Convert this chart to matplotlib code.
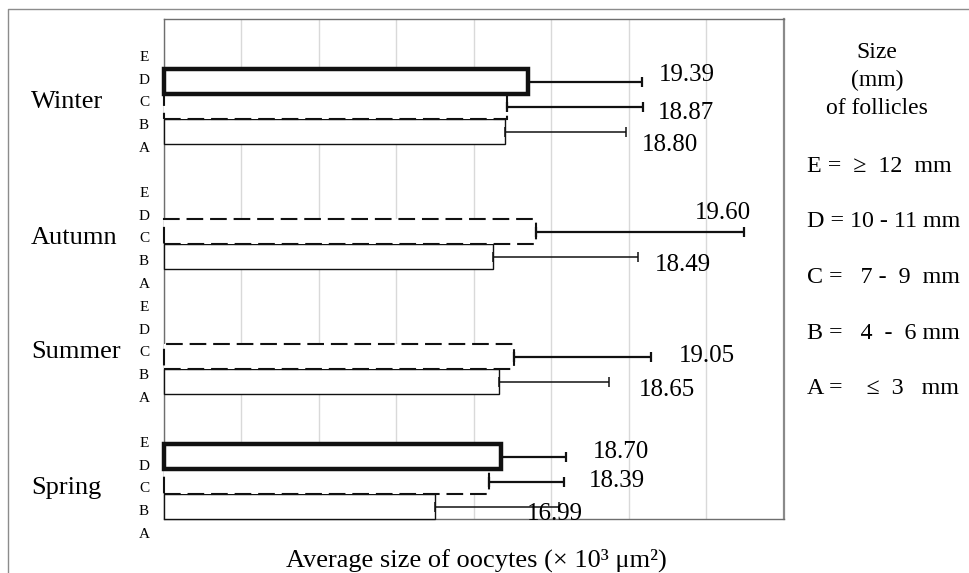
import matplotlib
matplotlib.use('Agg')
import matplotlib.pyplot as plt
from matplotlib.transforms import blended_transform_factory
from matplotlib.lines import Line2D

plt.rcParams['font.family'] = ['Liberation Serif', 'DejaVu Serif']

# ---------------------------------------------------------------------------
# Data: average oocyte size (x10^3 um^2) by season and follicle size class
# None = no follicles of that class in that season
# ---------------------------------------------------------------------------
seasons = ['Spring', 'Summer', 'Autumn', 'Winter']
classes = ['B', 'C', 'D']
letters = ['A', 'B', 'C', 'D', 'E']

mean_B = [16.99, 18.65, 18.49, 18.80]
mean_C = [18.39, 19.05, 19.60, 18.87]
mean_D = [18.70, None, None, 19.39]
err_B = [3.20, 2.84, 3.75, 3.12]
err_C = [1.94, 3.53, 5.38, 3.50]
err_D = [1.68, None, None, 2.96]

legend_lines = ['E =  \u2265  12  mm', 'D = 10 - 11 mm', 'C =   7 -  9  mm',
                'B =   4  -  6 mm', 'A =    \u2264  3   mm']

means = {'B': mean_B, 'C': mean_C, 'D': mean_D}
errs = {'B': err_B, 'C': err_C, 'D': err_D}

# ---------------------------------------------------------------------------
# Styling
# ---------------------------------------------------------------------------
bar_style = {
    'B': dict(linewidth=1.0, linestyle='-'),
    'C': dict(linewidth=1.5, linestyle=(0, (8, 3.3))),
    'D': dict(linewidth=3.2, linestyle='-'),
}
err_lw = {'B': 1.1, 'C': 1.6, 'D': 1.6}
slot = {'B': 0.5, 'C': 1.5, 'D': 2.5}   # position of the bar inside a season block
# label offsets (points) from the error bar end, per season
label_off = {
    'B': [(-3, -5.5), (41.5, -6), (32.5, -6), (32, -10)],
    'C': [(38, 0.5), (40, 0.5), (-15, 13), (31, -4.5)],
    'D': [(40, 3), None, None, (32, 4.5)],
}
season_y = [1.2, 6.64, 11.2, 16.64]   # y of letter C next to each block

W, H = 969, 573
fig = plt.figure(figsize=(W / 100, H / 100), dpi=100)
ax = fig.add_axes([164 / W, 1 - 519 / H, (783.5 - 164) / W, (519 - 19) / H])

ax.set_xlim(10, 26)
ax.set_ylim(0, 20)
ax.set_xticks(range(10, 27, 2))
ax.set_yticks([])
ax.tick_params(length=0, labelbottom=False)
ax.grid(axis='x', color='#d9d9d9', linewidth=1.0, zorder=0)
ax.set_axisbelow(True)
for side, sp in ax.spines.items():
    sp.set_color('#6e6e6e')
    sp.set_linewidth(1.0)
ax.spines['right'].set_linewidth(1.6)
ax.spines['right'].set_color('#8a8a8a')

for cls in classes:
    for i, season in enumerate(seasons):
        m = means[cls][i]
        if m is None:
            continue
        y = i * 5 + slot[cls]
        e = errs[cls][i]
        ax.barh(y, m - 10, left=10, height=1.0, facecolor='white',
                edgecolor='#111111', zorder=3, clip_on=False, **bar_style[cls])
        ax.errorbar(m, y, xerr=[[0], [e]], fmt='none', ecolor='#111111',
                    elinewidth=err_lw[cls], capsize=3.5, capthick=err_lw[cls],
                    zorder=4)
        ax.annotate(f'{m:.2f}', xy=(m + e, y), xytext=label_off[cls][i],
                    textcoords='offset points', ha='center', va='center',
                    fontsize=18, zorder=5)

# category letters and season names to the left of the plot
trans = blended_transform_factory(fig.transFigure, ax.transData)
for i, season in enumerate(seasons):
    yc = season_y[i]
    for k, let in enumerate(letters):
        ax.text(144 / W, yc + (k - 2) * 0.915, let, transform=trans,
                ha='center', va='center', fontsize=11, clip_on=False)
    ax.text(31 / W, yc + 0.05, season, transform=trans, ha='left',
            va='center', fontsize=19, clip_on=False)

ax.text(476 / W, 1 - 560 / H, 'Average size of oocytes (\u00d7 10\u00b3 \u03bcm\u00b2)',
        transform=fig.transFigure, ha='center', va='center', fontsize=19)

# key for the follicle size classes
for j, txt in enumerate(['Size', '(mm)', 'of follicles']):
    fig.text(877 / W, 1 - (52 + 28 * j) / H, txt, ha='center', va='center',
             fontsize=17)
for j, txt in enumerate(legend_lines):
    fig.text(807 / W, 1 - (166 + 55.7 * j) / H, txt, ha='left', va='center',
             fontsize=17.3)

# outer chart frame (top and left edges visible)
fig.add_artist(Line2D([8 / W, 8 / W, 1.0], [0.0, 1 - 9 / H, 1 - 9 / H],
                      transform=fig.transFigure, color='#8c8c8c', linewidth=1.0))

fig.savefig('out.png', dpi=100)
